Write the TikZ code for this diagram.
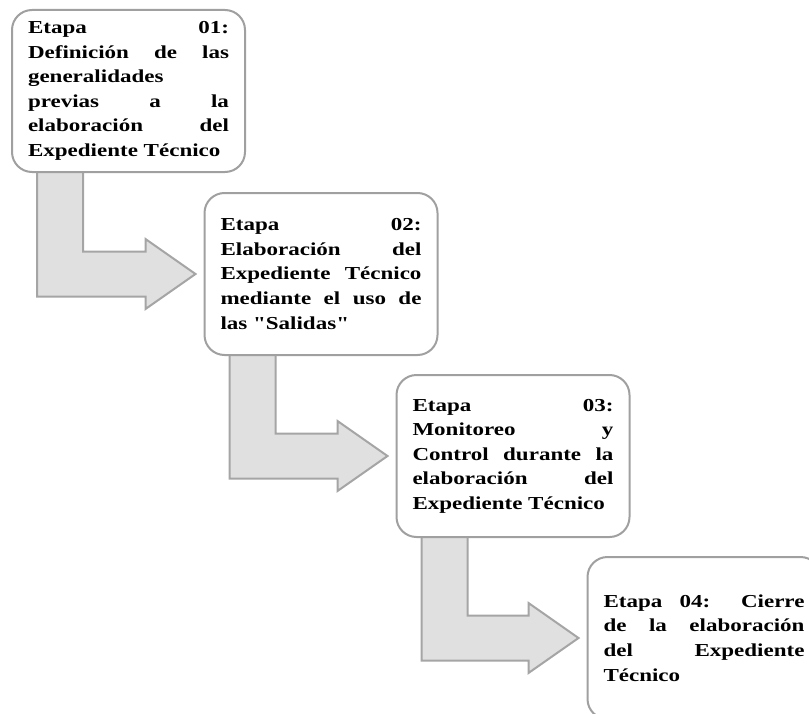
\documentclass[tikz,border=0pt]{standalone}
\usepackage{fontspec}
\setmainfont{Liberation Serif}[FakeStretch=1.26, Ligatures=TeXOff]
\usetikzlibrary{calc,backgrounds}
\definecolor{boxgray}{HTML}{A0A0A0}
\definecolor{arrowgray}{HTML}{A5A5A5}
\definecolor{arrowfill}{HTML}{E0E0E0}
\setlength{\parindent}{0pt}
\hbadness=10000

\begin{document}
\begin{tikzpicture}[
    x=0.75pt, y=-0.75pt,
    etapa/.style={draw=boxgray, line width=1.5pt, fill=white, rounded corners=15pt,
      text width=150.75pt, inner xsep=12pt, inner ysep=4pt, minimum height=121.5pt,
      align=justify, font=\fontsize{13.7pt}{18.4pt}\selectfont\bfseries},
    bentarrow/.style={draw=arrowgray, line width=1.5pt, fill=arrowfill}
    ]

    \useasboundingbox (0, 0) rectangle (809, 713);

    \node (etapa1) at (128.5, 91) [etapa] {Etapa 01:\linebreak Definición de las\linebreak generalidades\linebreak previas a la\linebreak elaboración del\linebreak Expediente Técnico};
    \node (etapa2) at (321, 274) [etapa] {Etapa 02:\linebreak Elaboración del\linebreak Expediente Técnico\linebreak mediante el uso de\linebreak las "Salidas"};
    \node (etapa3) at (513, 456) [etapa] {Etapa 03:\linebreak Monitoreo y\linebreak Control durante la\linebreak elaboración del\linebreak Expediente Técnico};
    \node (etapa4) at (704, 638) [etapa] {Etapa 04: Cierre\linebreak de la elaboración\linebreak del Expediente\linebreak Técnico};

    \begin{pgfonlayer}{background}
    \draw [bentarrow] ($(etapa1.south west)+(26,-4)$) |- ($(etapa2.west)+(-58,22.5)$) -- ++(0,12.5)
      -- ($(etapa2.west)+(-8,0)$) -- ++(-50,-35) -- ++(0,12.5) -| ($(etapa1.south west)+(72,-4)$) -- cycle;
    \draw [bentarrow] ($(etapa2.south west)+(26,-4)$) |- ($(etapa3.west)+(-58,22.5)$) -- ++(0,12.5)
      -- ($(etapa3.west)+(-8,0)$) -- ++(-50,-35) -- ++(0,12.5) -| ($(etapa2.south west)+(72,-4)$) -- cycle;
    \draw [bentarrow] ($(etapa3.south west)+(26,-4)$) |- ($(etapa4.west)+(-58,22.5)$) -- ++(0,12.5)
      -- ($(etapa4.west)+(-8,0)$) -- ++(-50,-35) -- ++(0,12.5) -| ($(etapa3.south west)+(72,-4)$) -- cycle;
    \end{pgfonlayer}

  \end{tikzpicture}
\end{document}
